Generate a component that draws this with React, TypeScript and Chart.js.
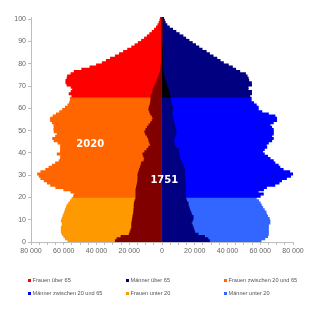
import React, { useEffect, useRef } from 'react';
import { Chart, registerables } from 'chart.js';

Chart.register(...registerables);

// Ages 0..100 (one bar per year of age)
const ages: number[] = [
  0, 1, 2, 3, 4, 5, 6, 7, 8, 9, 10, 11, 12, 13, 14, 15, 16, 17, 18, 19,
  20, 21, 22, 23, 24, 25, 26, 27, 28, 29, 30, 31, 32, 33, 34, 35, 36, 37, 38, 39,
  40, 41, 42, 43, 44, 45, 46, 47, 48, 49, 50, 51, 52, 53, 54, 55, 56, 57, 58, 59,
  60, 61, 62, 63, 64, 65, 66, 67, 68, 69, 70, 71, 72, 73, 74, 75, 76, 77, 78, 79,
  80, 81, 82, 83, 84, 85, 86, 87, 88, 89, 90, 91, 92, 93, 94, 95, 96, 97, 98, 99, 100,
];

// Y-axis tick values (age)
const ageTicks: number[] = [0, 10, 20, 30, 40, 50, 60, 70, 80, 90, 100];

// 2020 population in thousands, by age
const women2020: number[] = [
  57.5, 59, 60, 61, 61.5, 61.5, 61.5, 61, 61, 61.5,
  61, 60.5, 60, 59.5, 59, 58.5, 58, 57, 56, 55,
  54, 53.6, 55.7, 60, 64.9, 68, 70, 72, 74, 75,
  76, 74, 71, 69, 67, 65, 62.8, 62, 61.9, 64,
  62, 62, 62, 61.9, 63.5, 65.9, 66.8, 65, 64, 65.9,
  66, 65.9, 66, 67, 68.1, 68.1, 66.5, 64.5, 62.5, 60.7,
  59, 57.5, 56.5, 56, 56, 55, 56.7, 55.5, 54.6, 55.5,
  58, 58.7, 58.7, 58, 57.7, 55.6, 53.6, 49, 44, 40,
  36.5, 34, 31.5, 28.5, 26, 23.5, 21, 18.5, 16.5, 14.5,
  12.5, 10.7, 9, 7.5, 6, 4.6, 3.4, 2.5, 1.8, 1.3, 1,
];
const men2020: number[] = [
  60.5, 62.8, 64.5, 65, 65, 65, 65, 65, 65.9, 65.9,
  65.5, 64.5, 63.8, 63.5, 62.5, 61.5, 60.7, 60, 59, 57.6,
  60, 61.9, 58.8, 62, 63.8, 68.9, 71.5, 73, 76, 78.5,
  80, 78, 74, 72, 71, 69, 68, 66, 64.5, 62.5,
  61.5, 62.5, 64, 63.7, 65, 67, 68, 67, 68, 68,
  68, 67, 66, 68, 70, 70, 69, 65, 61, 58.8,
  58.8, 57.6, 56, 54.5, 54.5, 53.6, 54.7, 54.7, 52.6, 52.6,
  54.7, 54.6, 53, 52.7, 52, 51, 47.5, 45, 43, 40.5,
  37.5, 35.5, 33.5, 31.2, 29, 27, 24.5, 22.5, 20.5, 18.5,
  16.5, 14.5, 12.8, 10.5, 8.5, 6.5, 4.5, 3, 2, 1.5, 1,
];

// 1751 population in thousands, by age
const women1751: number[] = [
  28.5, 27.5, 25, 20, 19.5, 19, 18.5, 18.5, 18.5, 18.2,
  18, 17.8, 17.5, 17.3, 17.2, 17, 17, 16.9, 16.5, 16,
  15.9, 15.9, 15.9, 15.9, 15.6, 15.3, 15, 14.8, 14.7, 14.7,
  14.7, 14.2, 13.8, 13.3, 12.8, 12.5, 11, 10.7, 11.2, 11.7,
  10.5, 9.2, 8.2, 7, 7.5, 8, 8.3, 9, 10, 10.5,
  9.8, 9, 8, 7, 6, 5.5, 6, 7, 7.5, 8,
  7.8, 7.3, 7, 6.8, 6.7, 6.7, 6, 5.5, 5.5, 4.8,
  4.2, 3.6, 3, 2.5, 2, 1.5, 1, 0.8, 0.6, 0.5,
  0.4, 0.35, 0.3, 0.3, 0.25, 0.2, 0.2, 0.15, 0.1, 0.1,
  0.05, 0.05, 0.05, 0, 0, 0, 0, 0, 0, 0, 0,
];
const men1751: number[] = [
  29, 28, 26, 22, 20, 19.5, 19, 18.5, 17.9, 18.5,
  19, 19, 18, 17.5, 16.9, 16.5, 16, 15.9, 15, 14.5,
  14.4, 14.4, 14.4, 14.3, 14.2, 14.2, 14.2, 14.2, 14, 13.9,
  13.8, 13.8, 13.8, 13.2, 12.8, 12, 11.5, 11, 10.8, 10.5,
  10.2, 10, 8.5, 7.7, 7.5, 7.3, 7.3, 8, 8.6, 8.6,
  8.3, 8, 7.6, 7.3, 7, 6.7, 6.5, 6, 6.3, 6.7,
  6.5, 6, 5.6, 5.3, 5, 5, 4.6, 4.2, 3.8, 3.2,
  2.7, 2.4, 2, 1.6, 1.2, 0.9, 0.6, 0.5, 0.4, 0.3,
  0.25, 0.2, 0.2, 0.15, 0.1, 0.1, 0.05, 0.05, 0, 0,
  0, 0, 0, 0, 0, 0, 0, 0, 0, 0, 0,
];

// Age groups of the 2020 pyramid (legend series)
const groupLabels: string[] = [
  'Frauen über 65',
  'Männer über 65',
  'Frauen zwischen 20 und 65',
  'Männer zwischen 20 und 65',
  'Frauen unter 20',
  'Männer unter 20',
];
const groupColors: string[] = ['#FF0000', '#000080', '#FF6600', '#0000FF', '#FF9900', '#3366FF'];
const groupFrom: number[] = [65, 65, 20, 20, 0, 0];
const groupTo: number[] = [100, 100, 64, 64, 19, 19];
const groupIsWomen: boolean[] = [true, false, true, false, true, false];

const color1751Women = '#800000';
const color1751Men = '#000080';
const color1751MenOld = '#000000';

const yearTexts: string[] = ['2020', '1751'];
const yearTextX: number[] = [-43800, 1400];
const yearTextAge: number[] = [43.7, 27.7];

const fmt = (v: number) => String(Math.abs(v)).replace(/\B(?=(\d{3})+(?!\d))/g, ' ');

// legend layout: 3 columns x 2 rows
const legendCols = [28, 126, 224];
const legendRowsCenter = [280, 293];

const yearLabelPlugin = {
  id: 'yearLabels',
  afterDatasetsDraw(chart: any) {
    const { ctx, scales } = chart;
    ctx.save();
    ctx.fillStyle = '#ffffff';
    ctx.font = 'bold 10px "DejaVu Sans"';
    ctx.textAlign = 'center';
    ctx.textBaseline = 'middle';
    yearTexts.forEach((t, i) => {
      ctx.fillText(t, scales.x.getPixelForValue(yearTextX[i]), scales.y.getPixelForValue(yearTextAge[i]));
    });
    ctx.restore();
  },
};

export default function App() {
  const ref = useRef<HTMLCanvasElement>(null);

  useEffect(() => {
    if (!ref.current) return;
    const groupSets = groupLabels.map((label, g) => ({
      label,
      order: 1,
      backgroundColor: groupColors[g],
      data: ages
        .filter((a) => a >= groupFrom[g] && a <= groupTo[g])
        .map((a) => ({
          x: (groupIsWomen[g] ? -women2020[a] : men2020[a]) * 1000,
          y: a + 0.5,
        })),
    }));
    const oldSets = [
      {
        label: '1751 Frauen',
        order: 0,
        backgroundColor: color1751Women,
        data: ages.map((a) => ({ x: -women1751[a] * 1000, y: a + 0.5 })),
      },
      {
        label: '1751 Männer',
        order: 0,
        backgroundColor: ages.map((a) => (a >= 65 ? color1751MenOld : color1751Men)),
        data: ages.map((a) => ({ x: men1751[a] * 1000, y: a + 0.5 })),
      },
    ];

    const tickFont = { family: '"Liberation Sans", Arial', size: 7 };
    const axisColor = '#bdbdbd';

    const chart = new Chart(ref.current, {
      type: 'bar',
      data: { datasets: [...oldSets, ...groupSets] as any },
      options: {
        indexAxis: 'y',
        animation: false,
        responsive: false,
        events: [],
        layout: { padding: { left: 0, right: 27, top: 17, bottom: 56 } },
        datasets: {
          bar: {
            barPercentage: 1,
            categoryPercentage: 1,
            grouped: false,
            borderWidth: 0,
            inflateAmount: 0.4,
          } as any,
        },
        scales: {
          y: {
            type: 'linear',
            min: 0,
            max: 101,
            offset: false,
            afterBuildTicks: (s: any) => {
              s.ticks = ageTicks.map((v) => ({ value: v }));
            },
            afterFit: (s: any) => {
              s.width = 31;
            },
            ticks: { color: '#666', font: tickFont, padding: 2, autoSkip: false },
            grid: { drawOnChartArea: false, tickLength: 3, color: axisColor, offset: false },
            border: { color: axisColor },
          },
          x: {
            type: 'linear',
            min: -80000,
            max: 80000,
            afterFit: (s: any) => {
              s.height = 14;
            },
            ticks: {
              stepSize: 5000,
              autoSkip: false,
              maxRotation: 0,
              color: '#666',
              font: tickFont,
              padding: 2,
              callback: (v: any) => (Number(v) % 20000 === 0 ? fmt(Number(v)) : ''),
            },
            grid: { drawOnChartArea: false, tickLength: 3, color: axisColor },
            border: { color: axisColor },
          },
        } as any,
        plugins: {
          legend: { display: false },
          tooltip: { enabled: false },
        },
      },
      plugins: [yearLabelPlugin],
    });
    return () => chart.destroy();
  }, []);

  return (
    <div style={{ position: 'absolute', left: 0, top: 0, width: 320, height: 312, background: '#fff' }}>
      <canvas ref={ref} width={320} height={312} style={{ display: 'block' }} />
      {groupLabels.map((label, i) => (
        <div
          key={label}
          style={{
            position: 'absolute',
            left: legendCols[i % 3],
            top: legendRowsCenter[Math.floor(i / 3)] - 4,
            height: 8,
            display: 'flex',
            alignItems: 'center',
            whiteSpace: 'nowrap',
            fontFamily: '"Liberation Sans", Arial, sans-serif',
            fontSize: 5.6,
            color: '#555',
          }}
        >
          <span style={{ display: 'inline-block', width: 3, height: 3, background: groupColors[i], marginRight: 1.5 }} />
          <span>{label}</span>
        </div>
      ))}
    </div>
  );
}
